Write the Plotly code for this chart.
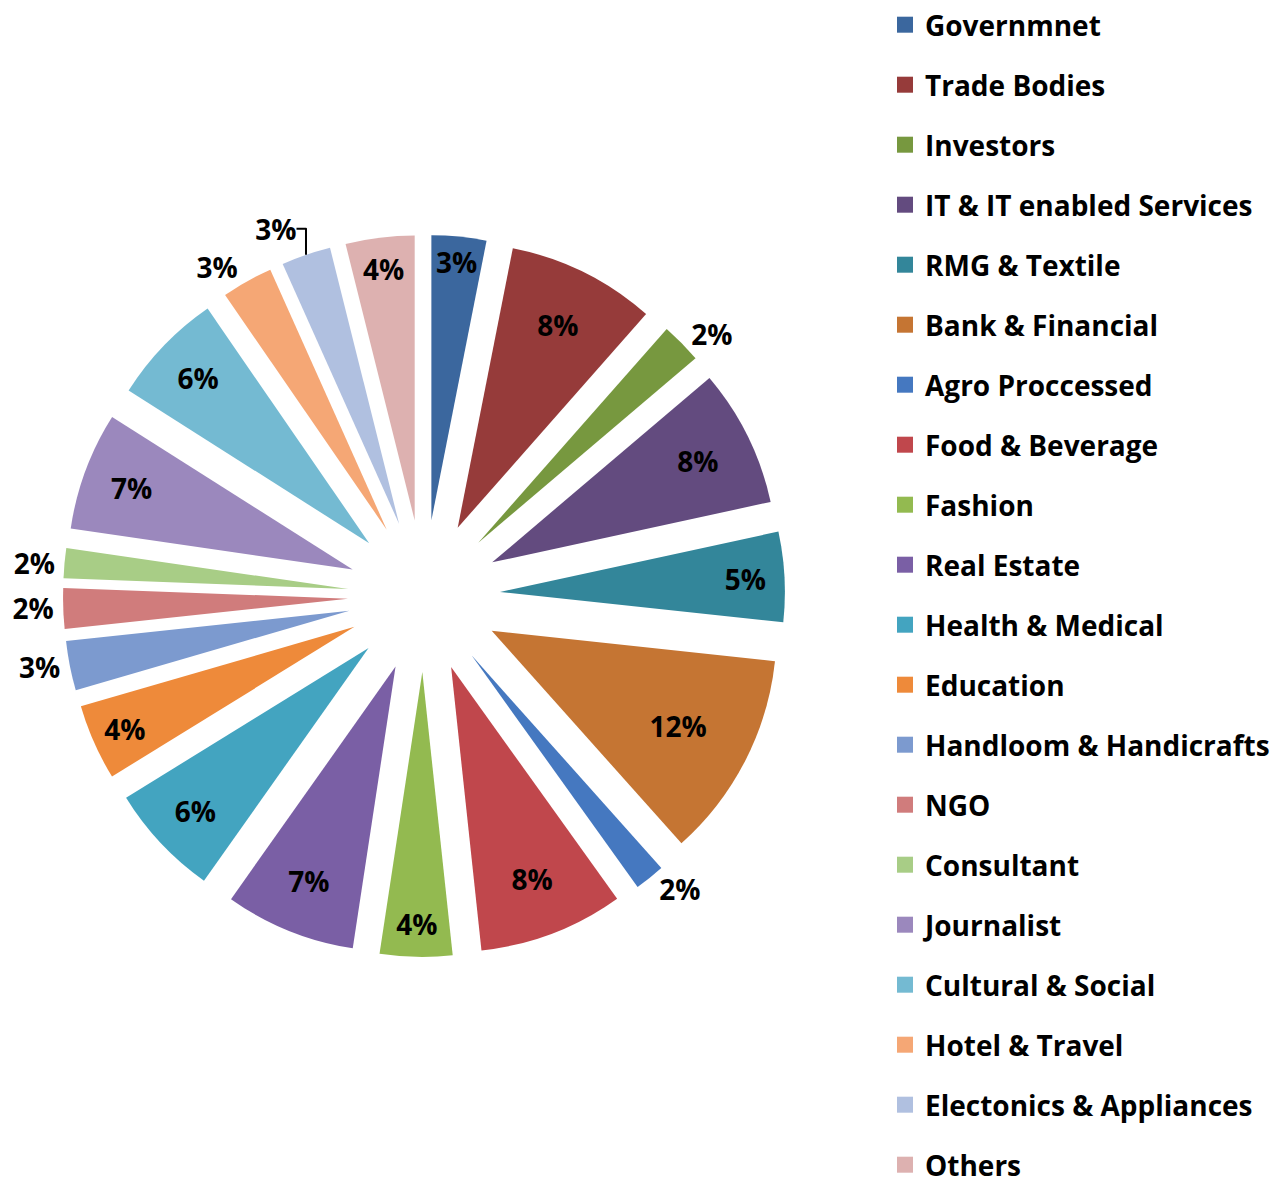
import plotly.graph_objects as go

categories = ["Governmnet", "Trade Bodies", "Investors", "IT & IT enabled Services",
              "RMG & Textile", "Bank & Financial", "Agro Proccessed", "Food & Beverage",
              "Fashion", "Real Estate", "Health & Medical", "Education",
              "Handloom & Handicrafts", "NGO", "Consultant", "Journalist",
              "Cultural & Social", "Hotel & Travel", "Electonics & Appliances", "Others"]
shares = [3.1, 8.4, 2.3, 7.8, 5.1, 11.7, 1.7, 8.2, 4.1, 7.4,
          6.4, 4.3, 2.8, 2.3, 1.7, 6.7, 6.4, 2.9, 2.8, 3.9]
colors = ["#3B679E", "#963B3A", "#77983F", "#634B7F", "#33869A", "#C57533",
          "#4578C0", "#C0474C", "#93BA50", "#7A5FA5", "#43A4C0", "#EE8A3A",
          "#7C9ACF", "#D07C7C", "#A8CD86", "#9B88BD", "#74BAD2", "#F5A775",
          "#B0C0E0", "#DDB1B0"]
label_pos = ["inside", "inside", "outside", "inside", "inside", "inside",
             "outside", "inside", "inside", "inside", "inside", "inside",
             "outside", "outside", "outside", "inside", "inside", "outside",
             "outside", "inside"]

W, H = 1279, 1178
legend_left = 885
cx, cy, R = 424, 596, 361

fig = go.Figure()
fig.add_trace(go.Pie(
    labels=categories, values=shares, sort=False, direction="clockwise",
    rotation=0, pull=0.267, marker=dict(colors=colors, line=dict(width=0)),
    texttemplate="%{percent:.0%}", textposition=label_pos,
    insidetextorientation="horizontal",
    textfont=dict(family="Open Sans", size=28, color="black", weight="bold"),
    showlegend=False, hoverinfo="label+percent",
    domain=dict(x=[(cx - R) / W, (cx + R) / W],
                y=[1 - (cy + R) / H, 1 - (cy - R) / H]),
))

for i, (name, col) in enumerate(zip(categories, colors)):
    fig.add_trace(go.Scatter(
        x=[None], y=[None], mode="markers", name=name, legendgroup=f"g{i}",
        marker=dict(symbol="square", size=16, color=col), hoverinfo="skip",
    ))

fig.update_layout(
    width=W, height=H, margin=dict(l=0, r=0, t=0, b=0, autoexpand=False),
    paper_bgcolor="white", plot_bgcolor="white",
    xaxis=dict(visible=False, domain=[0.0, 0.01]), yaxis=dict(visible=False, domain=[0.0, 0.01]),
    uniformtext=dict(minsize=28, mode="show"),
    legend=dict(x=legend_left / W, xanchor="left", y=1.0, yanchor="top", maxheight=1400,
                tracegroupgap=20.6, font=dict(family="Open Sans", size=28, color="black", weight="bold"),
                bgcolor="rgba(0,0,0,0)"),
)

fig.write_html("out.html")
